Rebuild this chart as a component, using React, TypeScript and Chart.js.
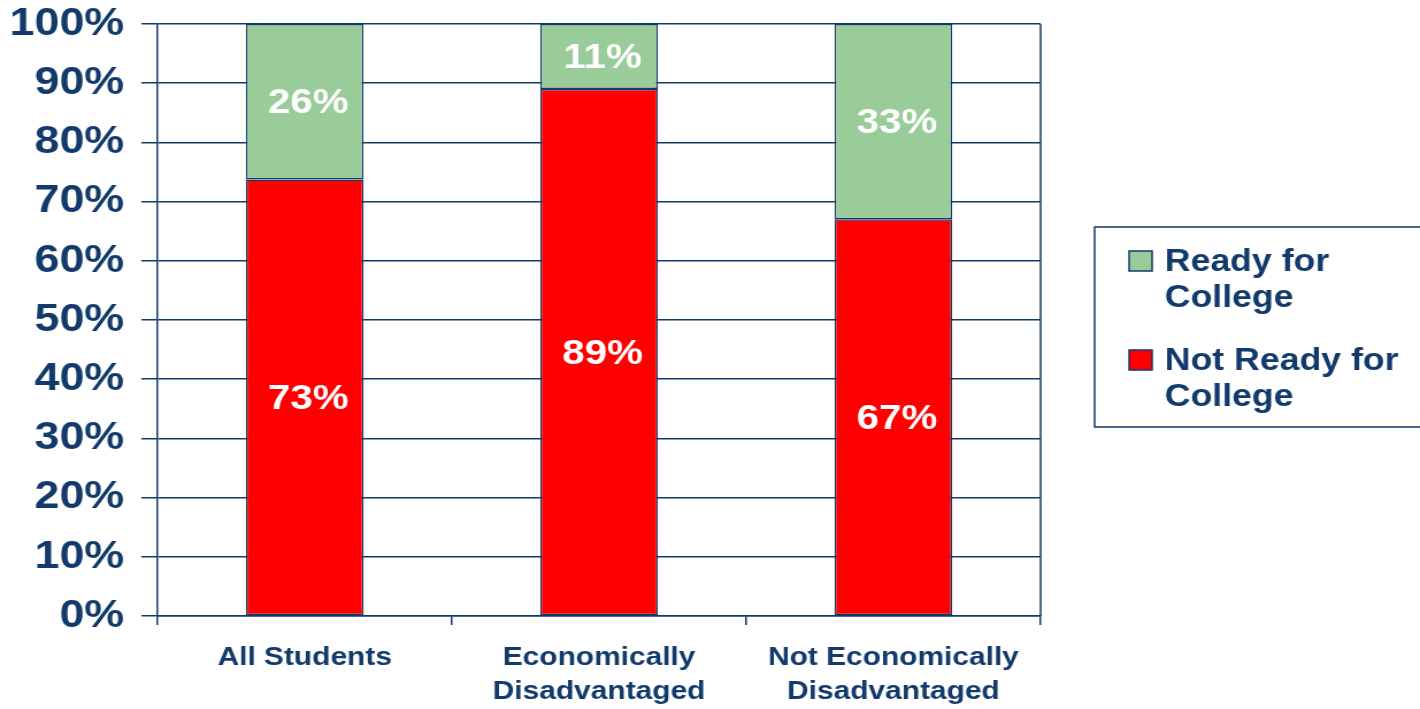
import React, { useEffect, useRef } from 'react';
import { Chart, registerables } from 'chart.js';

Chart.register(...registerables);

// ---- data ----
const categories: (string | string[])[] = [
  'All Students',
  ['Economically', 'Disadvantaged'],
  ['Not Economically', 'Disadvantaged'],
];
const notReadyValues = [73, 89, 67];
const readyValues = [26, 11, 33];
const notReadyLegend = ['Not Ready for', 'College'];
const readyLegend = ['Ready for', 'College'];
const yTickLabels = ['0%', '10%', '20%', '30%', '40%', '50%', '60%', '70%', '80%', '90%', '100%'];

// 100% stacked: each column is normalised to its own total
const totals = notReadyValues.map((v, i) => v + readyValues[i]);
const notReadyShare = notReadyValues.map((v, i) => (v / totals[i]) * 100);
const readyShare = readyValues.map((v, i) => (v / totals[i]) * 100);

// ---- style / layout ----
const VIEW_W = 1420;
const VIEW_H = 709;
const STRETCH = 1.15;
const CANVAS_W = Math.round(VIEW_W / STRETCH);
const PLOT_LEFT = 137;
const PLOT_RIGHT = 905;
const PLOT_TOP = 24;
const X_AXIS_H = 93;
const NAVY = '#123A6B';
const GREEN = '#99CC99';
const RED = '#FF0000';
const FONT = '"Liberation Sans", Arial, Helvetica, sans-serif';
const LEGEND_BOX = { left: 952, top: 227, bottom: 427 };

const barLabelPlugin = {
  id: 'barLabels',
  afterDatasetsDraw(chart: any) {
    const ctx = chart.ctx;
    ctx.save();
    ctx.font = `bold 35px ${FONT}`;
    ctx.fillStyle = '#FFFFFF';
    ctx.textAlign = 'center';
    ctx.textBaseline = 'middle';
    chart.data.datasets.forEach((ds: any, di: number) => {
      const meta = chart.getDatasetMeta(di);
      meta.data.forEach((el: any, i: number) => {
        const { x, y, base } = el.getProps(['x', 'y', 'base'], true);
        ctx.fillText(`${ds.rawValues[i]}%`, x + 3, (y + base) / 2 + 2);
      });
    });
    ctx.restore();
  },
};

const framePlugin = {
  id: 'frameRight',
  afterDraw(chart: any) {
    const { ctx, chartArea } = chart;
    ctx.save();
    ctx.strokeStyle = NAVY;
    ctx.lineWidth = 1.5;
    ctx.beginPath();
    ctx.moveTo(chartArea.right, chartArea.top);
    ctx.lineTo(chartArea.right, chartArea.bottom);
    ctx.stroke();
    ctx.restore();
  },
};

const boxLegendPlugin = {
  id: 'boxLegend',
  afterDraw(chart: any) {
    const ctx = chart.ctx;
    ctx.save();
    ctx.strokeStyle = NAVY;
    ctx.lineWidth = 1.5;
    ctx.strokeRect(LEGEND_BOX.left, LEGEND_BOX.top, chart.width + 20 - LEGEND_BOX.left, LEGEND_BOX.bottom - LEGEND_BOX.top);
    const items = [...chart.data.datasets].reverse();
    ctx.font = `bold 31px ${FONT}`;
    ctx.textAlign = 'left';
    ctx.textBaseline = 'middle';
    items.forEach((ds: any, i: number) => {
      const sqTop = 251 + i * 99;
      const sqX = LEGEND_BOX.left + 30;
      ctx.fillStyle = ds.backgroundColor;
      ctx.fillRect(sqX, sqTop, 20, 20);
      ctx.lineWidth = 1.5;
      ctx.strokeStyle = NAVY;
      ctx.strokeRect(sqX, sqTop, 20, 20);
      ctx.fillStyle = NAVY;
      (ds.legendLines as string[]).forEach((line, j) => {
        ctx.fillText(line, sqX + 31, sqTop + 11 + j * 36);
      });
    });
    ctx.restore();
  },
};

export default function App() {
  const canvasRef = useRef<HTMLCanvasElement | null>(null);

  useEffect(() => {
    if (!canvasRef.current) return;
    const chart = new Chart(canvasRef.current, {
      type: 'bar',
      data: {
        labels: categories,
        datasets: [
          {
            label: notReadyLegend.join(' '),
            legendLines: notReadyLegend,
            rawValues: notReadyValues,
            data: notReadyShare,
            backgroundColor: RED,
            borderColor: NAVY,
            borderWidth: 1.5,
            borderSkipped: false,
            barPercentage: 0.4,
            categoryPercentage: 1,
          } as any,
          {
            label: readyLegend.join(' '),
            legendLines: readyLegend,
            rawValues: readyValues,
            data: readyShare,
            backgroundColor: GREEN,
            borderColor: NAVY,
            borderWidth: 1.5,
            borderSkipped: false,
            barPercentage: 0.4,
            categoryPercentage: 1,
          } as any,
        ],
      },
      options: {
        responsive: false,
        maintainAspectRatio: false,
        animation: false,
        devicePixelRatio: 1,
        layout: { padding: { top: PLOT_TOP, right: CANVAS_W - PLOT_RIGHT, left: 0, bottom: 0 } },
        plugins: { legend: { display: false }, tooltip: { enabled: false } },
        scales: {
          x: {
            stacked: true,
            grid: {
              display: true,
              drawOnChartArea: false,
              drawTicks: true,
              tickLength: 9,
              color: NAVY,
              lineWidth: 1.5,
              offset: true,
            },
            border: { display: true, color: NAVY, width: 1.5 },
            ticks: {
              color: NAVY,
              font: { family: FONT, size: 26, weight: 'bold', lineHeight: 1.3 },
              padding: 16,
              maxRotation: 0,
              autoSkip: false,
            },
            afterFit(scale: any) {
              scale.height = X_AXIS_H;
              scale.paddingLeft = 0;
              scale.paddingRight = 0;
            },
          },
          y: {
            stacked: true,
            min: 0,
            max: 100,
            ticks: {
              stepSize: 10,
              callback: (_v: any, i: number) => yTickLabels[i],
              color: NAVY,
              font: { family: FONT, size: 39, weight: 'bold' },
              padding: 15,
            },
            grid: { color: NAVY, lineWidth: 1.5, tickLength: 14 },
            border: { display: true, color: NAVY, width: 1.5 },
            afterFit(scale: any) {
              scale.width = PLOT_LEFT;
              scale.paddingTop = 0;
              scale.paddingBottom = 0;
            },
          },
        },
      } as any,
      plugins: [barLabelPlugin, framePlugin, boxLegendPlugin],
    });
    return () => chart.destroy();
  }, []);

  return (
    <div style={{ position: 'absolute', left: 0, top: 0, width: VIEW_W, height: VIEW_H, background: '#fff', overflow: 'hidden' }}>
      <canvas
        ref={canvasRef}
        width={CANVAS_W}
        height={VIEW_H}
        style={{ display: 'block', width: `${VIEW_W}px`, height: `${VIEW_H}px` }}
      />
    </div>
  );
}
